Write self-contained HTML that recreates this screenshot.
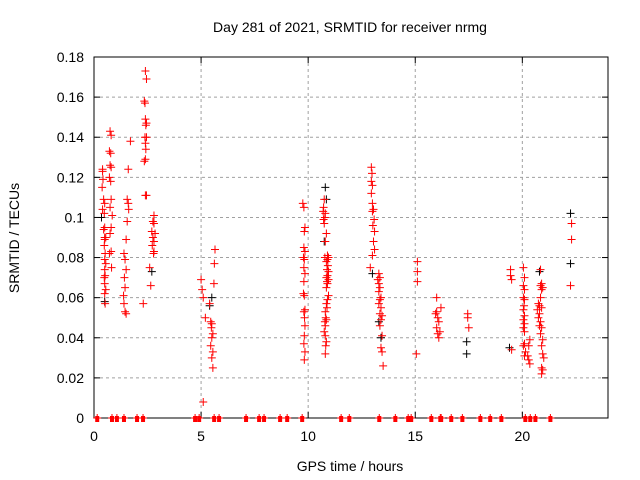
<!DOCTYPE html>
<html><head><meta charset="utf-8"><style>
body{margin:0;background:#fff}
svg{display:block;font-family:"Liberation Sans",sans-serif}
</style></head><body>
<svg id="chart" width="640" height="480">
<text x="350" y="32" font-size="14" text-anchor="middle">Day 281 of 2021, SRMTID for receiver nrmg</text>
<text x="350" y="471" font-size="14" text-anchor="middle">GPS time / hours</text>
<text transform="translate(19,238) rotate(-90)" font-size="14" text-anchor="middle">SRMTID / TECUs</text>
<g id="grid"></g>
<g id="axes"></g>
<g id="black"></g>
<g id="red"></g>
</svg>
<script>
const xTicks=[0,5,10,15,20];
const yTicks=[0,0.02,0.04,0.06,0.08,0.1,0.12,0.14,0.16,0.18];
const yTickLabels=["0","0.02","0.04","0.06","0.08","0.1","0.12","0.14","0.16","0.18"];
const redT=[0.4,0.4,0.42,0.38,0.45,0.5,0.4,0.48,0.5,0.45,0.5,0.55,0.5,0.48,0.52,0.5,0.55,0.5,0.52,0.48,0.5,0.55,0.5,0.52,
0.75,0.8,0.72,0.78,0.75,0.8,0.72,0.78,0.8,0.75,0.85,0.8,0.75,0.8,0.72,0.82,
1.7,1.6,1.55,1.6,1.62,1.55,1.5,1.4,1.45,1.5,1.42,1.45,1.38,1.4,1.45,1.5,
2.4,2.45,2.35,2.38,2.4,2.45,2.42,2.38,2.45,2.4,2.42,2.4,2.35,2.4,2.45,2.8,2.75,2.8,2.7,2.85,2.75,2.8,2.72,2.8,2.78,2.6,2.65,2.3,
5.0,5.05,5.1,5.4,5.2,5.45,5.5,5.48,5.55,5.5,5.45,5.55,5.5,5.55,5.65,5.62,5.6,5.1,
9.75,9.8,9.85,9.82,9.8,9.85,9.78,9.82,9.8,9.85,9.8,9.78,9.82,9.85,9.8,9.83,9.85,9.82,9.8,9.85,9.82,
10.75,10.72,10.7,10.8,10.78,10.72,10.75,10.85,10.8,10.9,10.95,10.9,10.85,10.92,10.88,10.95,10.9,10.85,10.95,10.88,10.9,10.85,10.95,10.9,10.85,10.88,10.8,10.82,10.85,10.78,10.8,10.75,10.8,10.85,10.82,10.8,10.78,
12.95,12.98,12.95,13.0,12.95,13.0,13.05,13.0,13.08,13.02,13.1,13.05,13.1,13.0,12.9,13.3,13.35,13.25,13.3,13.35,13.3,13.4,13.35,13.3,13.4,13.35,13.45,13.4,13.35,13.45,13.4,13.45,13.5,
15.1,15.1,15.1,15.05,
16.0,16.2,15.95,16.05,16.1,16.0,16.15,16.05,16.1,16.0,
17.45,17.45,17.5,
19.45,19.45,19.5,19.5,
20.05,20.1,20.05,20.1,20.05,20.1,20.08,20.05,20.1,20.05,20.1,20.05,20.1,20.1,20.05,20.15,20.1,20.35,20.3,20.25,20.3,20.35,
20.85,20.9,20.85,20.95,20.9,20.85,20.75,20.8,20.9,20.7,20.8,20.75,20.85,20.8,20.9,20.85,20.95,20.9,20.95,21.0,20.9,20.95,20.9,
22.3,22.3,22.25,
0.15,0.84,1.07,1.4,2.01,2.29,4.72,4.91,5.61,5.84,7.1,7.71,7.94,8.69,9.02,9.72,11.54,11.92,13.32,14.07,14.67,14.81,15.75,16.17,16.21,16.68,17.2,18.04,18.5,19.02,20.14,20.37,20.61,21.31];
const redV=[0.124,0.123,0.119,0.115,0.109,0.107,0.104,0.102,0.095,0.094,0.090,0.090,0.089,0.086,0.082,0.079,0.077,0.074,0.071,0.070,0.067,0.064,0.062,0.057,
0.143,0.141,0.133,0.132,0.126,0.125,0.120,0.118,0.109,0.105,0.101,0.095,0.092,0.083,0.082,0.075,
0.138,0.124,0.109,0.107,0.104,0.098,0.089,0.082,0.079,0.074,0.070,0.065,0.061,0.057,0.053,0.052,
0.173,0.169,0.158,0.157,0.149,0.147,0.146,0.140,0.140,0.137,0.134,0.129,0.128,0.111,0.111,0.101,0.098,0.097,0.093,0.092,0.090,0.088,0.086,0.083,0.082,0.075,0.066,0.057,
0.069,0.064,0.060,0.057,0.050,0.048,0.047,0.045,0.042,0.040,0.036,0.033,0.030,0.025,0.084,0.077,0.067,0.008,
0.107,0.105,0.095,0.093,0.085,0.083,0.080,0.079,0.075,0.072,0.068,0.062,0.061,0.054,0.053,0.050,0.046,0.041,0.037,0.033,0.029,
0.109,0.105,0.103,0.102,0.100,0.099,0.097,0.092,0.088,0.081,0.080,0.079,0.078,0.076,0.074,0.073,0.071,0.070,0.069,0.068,0.067,0.065,0.061,0.059,0.057,0.055,0.053,0.050,0.049,0.048,0.046,0.043,0.041,0.038,0.036,0.032,0.080,
0.125,0.122,0.118,0.116,0.112,0.107,0.104,0.103,0.099,0.096,0.093,0.088,0.084,0.081,0.075,0.072,0.070,0.069,0.067,0.065,0.063,0.060,0.059,0.057,0.055,0.052,0.051,0.049,0.046,0.041,0.035,0.033,0.026,
0.078,0.073,0.068,0.032,
0.060,0.055,0.052,0.050,0.048,0.045,0.043,0.042,0.040,0.053,
0.052,0.050,0.045,
0.074,0.071,0.069,0.034,
0.075,0.070,0.066,0.064,0.060,0.059,0.056,0.054,0.051,0.049,0.047,0.045,0.043,0.037,0.036,0.033,0.031,0.039,0.036,0.031,0.029,0.027,
0.074,0.067,0.066,0.065,0.064,0.060,0.057,0.056,0.055,0.054,0.052,0.050,0.048,0.046,0.045,0.042,0.039,0.036,0.032,0.030,0.025,0.024,0.022,
0.097,0.089,0.066,
0,0,0,0,0,0,0,0,0,0,0,0,0,0,0,0,0,0,0,0,0,0,0,0,0,0,0,0,0,0,0,0,0,0];
const blackT=[10.8,10.85,10.75,13.0,13.3,13.4,17.4,17.4,19.4,20.8,22.25,22.25,5.5,5.4,2.7,0.35,0.5];
const blackV=[0.115,0.109,0.088,0.072,0.048,0.040,0.038,0.032,0.035,0.073,0.102,0.077,0.060,0.056,0.073,0.100,0.058];

const L=94,R=608,T=57,B=418;
const xs=t=>L+(R-L)*t/24;
const ys=v=>B-(B-T)*v/0.18;
const NS="http://www.w3.org/2000/svg";
function mk(tag,attrs,parent){const e=document.createElementNS(NS,tag);for(const k in attrs)e.setAttribute(k,attrs[k]);parent.appendChild(e);return e;}
const grid=document.getElementById('grid'),axes=document.getElementById('axes');
yTicks.forEach((v,i)=>{
  const y=ys(v);
  if(i>0&&i<yTicks.length-1){const g=mk('line',{x1:L,x2:R,y1:y,y2:y,stroke:'#a0a0a0','stroke-dasharray':'3,3'},grid);
  
  }
  mk('line',{x1:L,x2:L+6,y1:y,y2:y,stroke:'#000'},axes);
  mk('line',{x1:R,x2:R-6,y1:y,y2:y,stroke:'#000'},axes);
  const t=mk('text',{x:L-10,y:y+5,'font-size':14,'text-anchor':'end'},axes);
  t.textContent=yTickLabels[i];
  
  
});
xTicks.forEach(v=>{
  const x=xs(v);
  if(v>0){const g=mk('line',{x1:x,x2:x,y1:T,y2:B,stroke:'#a0a0a0','stroke-dasharray':'3,3'},grid);
  
  }
  mk('line',{x1:x,x2:x,y1:B,y2:B-6,stroke:'#000'},axes);
  mk('line',{x1:x,x2:x,y1:T,y2:T+6,stroke:'#000'},axes);
  const t=mk('text',{x:x,y:B+23,'font-size':14,'text-anchor':'middle'},axes);
  t.textContent=String(v);
  
  
});
mk('rect',{x:L,y:T,width:R-L,height:B-T,fill:'none',stroke:'#000'},axes);
function plus(g,t,v,col){
  const x=xs(t),y=ys(v);
  const p=mk('path',{d:`M${x-4},${y}H${x+4}M${x},${y-4}V${y+4}`,stroke:col,'stroke-width':1,fill:'none'},g);
  
  
}
const bg=document.getElementById('black'),rg=document.getElementById('red');
blackT.forEach((t,i)=>plus(bg,t,blackV[i],'#000'));
redT.forEach((t,i)=>{plus(rg,t,redV[i],'#f00');
  if(redV[i]===0){const r=mk('rect',{x:xs(t)-2,y:B-2,width:4,height:6,fill:'#f00'},rg);
  
  }});
</script>
</body></html>
